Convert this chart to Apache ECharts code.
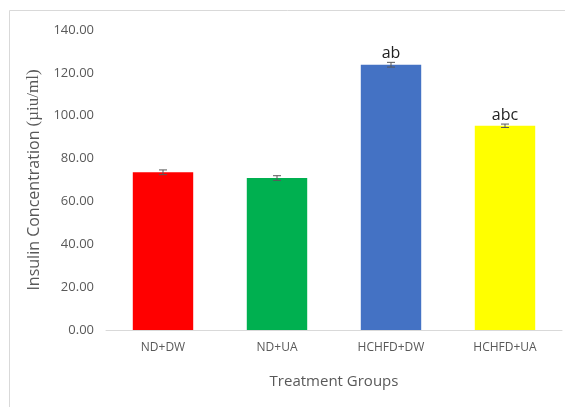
<!DOCTYPE html>
<html>
<head>
<meta charset="utf-8">
<script src="https://cdn.jsdelivr.net/npm/echarts@6/dist/echarts.min.js"></script>
<style>
  html, body { margin: 0; padding: 0; background: #fff; }
  #echart { width: 565px; height: 407px; }
</style>
</head>
<body>
<div id="echart"></div>
<script>
var groups = ['ND+DW', 'ND+UA', 'HCHFD+DW', 'HCHFD+UA'];
var insulin = [73.6, 70.9, 123.8, 95.3];
var errors = [1.1, 1.1, 1.1, 0.8];
var letters = ['', '', 'ab', 'abc'];
var barColors = ['#FF0000', '#00B050', '#4472C4', '#FFFF00'];

var myChart = echarts.init(document.getElementById('echart'));

var option = {
  animation: false,
  textStyle: { fontFamily: 'Open Sans' },
  graphic: [{
    type: 'rect',
    shape: { x: 9.5, y: 10.5, width: 600, height: 450 },
    style: { fill: 'none', stroke: '#d9d9d9', lineWidth: 1 },
    silent: true
  }],
  grid: { left: 106, right: 3, top: 30, bottom: 77 },
  xAxis: {
    type: 'category',
    data: groups,
    name: 'Treatment Groups',
    nameLocation: 'middle',
    nameGap: 44,
    nameTextStyle: { color: '#595959', fontSize: 15 },
    axisLine: { lineStyle: { color: '#d9d9d9', width: 1 } },
    axisTick: { show: false },
    axisLabel: { color: '#595959', fontSize: 12, margin: 12 }
  },
  yAxis: {
    type: 'value',
    min: 0,
    max: 140,
    interval: 20,
    name: '{a|Insulin Concentration }{b|(µiu/ml)}',
    nameLocation: 'middle',
    nameGap: 58,
    nameTextStyle: {
      rich: {
        a: { color: '#595959', fontSize: 16, fontFamily: 'Open Sans' },
        b: { color: '#595959', fontSize: 17, fontFamily: 'Liberation Serif' }
      }
    },
    axisLine: { show: false },
    axisTick: { show: false },
    splitLine: { show: false },
    axisLabel: {
      color: '#595959',
      fontSize: 13,
      margin: 12,
      formatter: function (v) { return v.toFixed(2); }
    }
  },
  series: [
    {
      type: 'bar',
      barWidth: '53%',
      data: insulin.map(function (v, i) {
        return { value: v, itemStyle: { color: barColors[i] } };
      })
    },
    {
      type: 'custom',
      data: insulin.map(function (v, i) { return [i, v, errors[i]]; }),
      renderItem: function (params, api) {
        var i = api.value(0);
        var top = api.coord([i, api.value(1) + api.value(2)]);
        var bot = api.coord([i, api.value(1) - api.value(2)]);
        var w = 4;
        var st = { stroke: '#595959', lineWidth: 1 };
        var children = [
          { type: 'line', shape: { x1: top[0], y1: top[1], x2: bot[0], y2: bot[1] }, style: st },
          { type: 'line', shape: { x1: top[0] - w, y1: top[1], x2: top[0] + w, y2: top[1] }, style: st },
          { type: 'line', shape: { x1: bot[0] - w, y1: bot[1], x2: bot[0] + w, y2: bot[1] }, style: st }
        ];
        if (letters[i]) {
          children.push({
            type: 'text',
            style: {
              text: letters[i],
              x: top[0],
              y: top[1] - 1,
              align: 'center',
              verticalAlign: 'bottom',
              fill: '#222',
              font: '16px "Open Sans"'
            }
          });
        }
        return { type: 'group', children: children };
      },
      z: 5
    }
  ]
};
myChart.setOption(option);
</script>
</body>
</html>
